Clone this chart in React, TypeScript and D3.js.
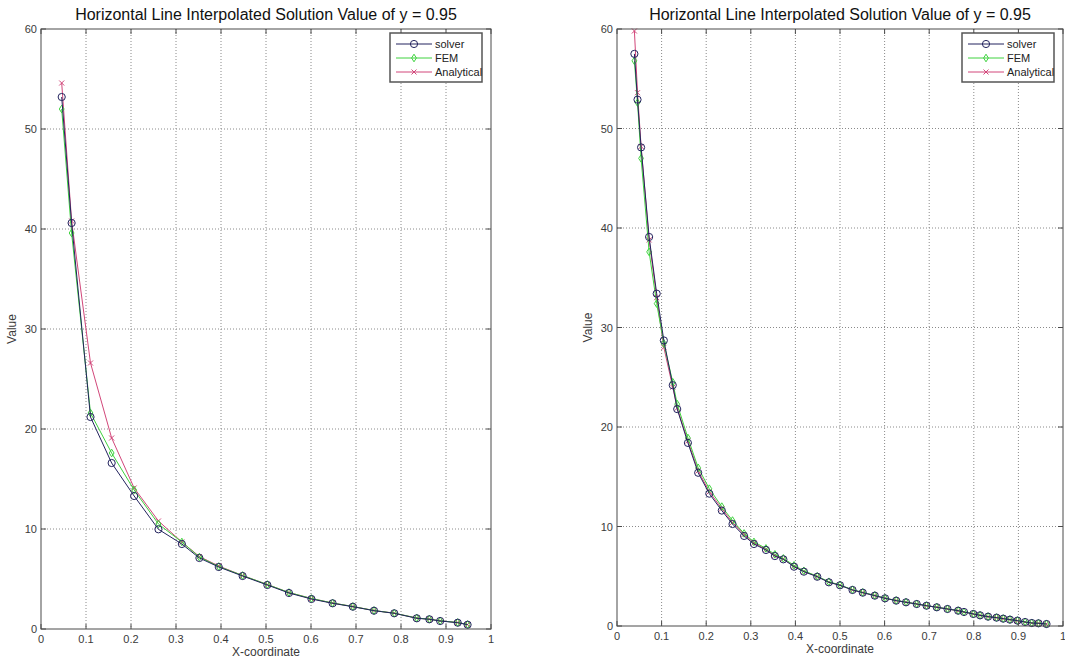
import React, { useRef, useEffect } from 'react';
import * as d3 from 'd3';

// left panel: coarse mesh
const leftX = [0.046, 0.068, 0.11, 0.157, 0.207, 0.261, 0.313, 0.352, 0.395, 0.448, 0.503, 0.551, 0.601, 0.648, 0.693, 0.74, 0.785, 0.835, 0.863, 0.887, 0.926, 0.948];
const leftSolver = [53.2, 40.6, 21.2, 16.6, 13.3, 9.97, 8.5, 7.1, 6.2, 5.3, 4.4, 3.6, 3.0, 2.57, 2.23, 1.83, 1.57, 1.07, 0.97, 0.8, 0.63, 0.43];
const leftFem = [52.0, 39.6, 21.6, 17.6, 13.9, 10.5, 8.7, 7.2, 6.25, 5.35, 4.45, 3.65, 3.05, 2.6, 2.25, 1.85, 1.58, 1.1, 0.98, 0.82, 0.65, 0.45];
const leftAnalytical = [54.6, 40.8, 26.6, 19.1, 14.1, 10.8, 8.7, 7.25, 6.3, 5.35, 4.45, 3.65, 3.05, 2.6, 2.25, 1.85, 1.58, 1.1, 0.98, 0.82, 0.65, 0.45];

// right panel: fine mesh
const rightX = [0.039, 0.046, 0.054, 0.072, 0.089, 0.105, 0.125, 0.135, 0.159, 0.182, 0.207, 0.235, 0.259, 0.285, 0.307, 0.334, 0.354, 0.373, 0.397, 0.419, 0.449, 0.475, 0.5, 0.528, 0.551, 0.578, 0.601, 0.626, 0.648, 0.672, 0.694, 0.717, 0.741, 0.765, 0.778, 0.799, 0.814, 0.832, 0.851, 0.866, 0.881, 0.898, 0.915, 0.93, 0.945, 0.963];
const rightSolver = [57.5, 52.9, 48.1, 39.1, 33.4, 28.7, 24.2, 21.8, 18.4, 15.4, 13.3, 11.6, 10.25, 9.05, 8.24, 7.64, 7.03, 6.7, 5.96, 5.46, 4.95, 4.39, 4.09, 3.62, 3.35, 3.05, 2.78, 2.55, 2.38, 2.21, 2.04, 1.88, 1.71, 1.54, 1.41, 1.21, 1.07, 0.94, 0.84, 0.74, 0.64, 0.54, 0.4, 0.3, 0.27, 0.2];
const rightFem = [56.8, 52.6, 47.0, 37.6, 32.4, 28.4, 24.5, 22.3, 18.9, 15.9, 13.8, 12.0, 10.6, 9.3, 8.45, 7.8, 7.2, 6.8, 6.1, 5.55, 5.0, 4.45, 4.12, 3.65, 3.38, 3.08, 2.8, 2.57, 2.4, 2.22, 2.05, 1.89, 1.72, 1.55, 1.42, 1.22, 1.08, 0.95, 0.85, 0.75, 0.65, 0.55, 0.42, 0.32, 0.28, 0.21];
const rightAnalytical = [59.8, 53.6, 48.2, 38.8, 33.0, 28.0, 24.0, 21.9, 18.6, 15.6, 13.5, 11.8, 10.4, 9.2, 8.35, 7.7, 7.1, 6.75, 6.0, 5.5, 4.98, 4.42, 4.1, 3.63, 3.36, 3.06, 2.79, 2.56, 2.39, 2.21, 2.04, 1.88, 1.71, 1.54, 1.41, 1.21, 1.07, 0.94, 0.84, 0.74, 0.64, 0.54, 0.4, 0.3, 0.27, 0.2];

const xTicks = [0, 0.1, 0.2, 0.3, 0.4, 0.5, 0.6, 0.7, 0.8, 0.9, 1];
const yTicks = [0, 10, 20, 30, 40, 50, 60];
const legendLabels = ['solver', 'FEM', 'Analytical'];
const titleText = 'Horizontal Line Interpolated Solution Value of y = 0.95';

const COLORS = { solver: '#23235e', fem: '#3fd23f', analytical: '#d2477a' };
const FONT = 'Liberation Sans, Arial, sans-serif';

const drawPanel = (svg, box, xs, solver, fem, analytical) => {
  const { x0, x1, y0, y1 } = box;
  const xScale = d3.scaleLinear().domain([0, 1]).range([x0, x1]);
  const yScale = d3.scaleLinear().domain([0, 60]).range([y1, y0]);
  const g = svg.append('g');

  // plot background
  g.append('rect')
    .attr('x', x0).attr('y', y0)
    .attr('width', x1 - x0).attr('height', y1 - y0)
    .attr('fill', 'white');

  // dotted grid
  g.selectAll('.vgrid')
    .data(xTicks.slice(1, -1))
    .enter().append('line')
    .attr('x1', d => xScale(d)).attr('x2', d => xScale(d))
    .attr('y1', y0).attr('y2', y1)
    .attr('stroke', '#8a8a8a')
    .attr('stroke-width', 1)
    .attr('stroke-dasharray', '1,2');

  g.selectAll('.hgrid')
    .data(yTicks.slice(1, -1))
    .enter().append('line')
    .attr('x1', x0).attr('x2', x1)
    .attr('y1', d => yScale(d)).attr('y2', d => yScale(d))
    .attr('stroke', '#8a8a8a')
    .attr('stroke-width', 1)
    .attr('stroke-dasharray', '1,2');

  // series
  const series = [
    { values: analytical, color: COLORS.analytical, marker: 'x' },
    { values: fem, color: COLORS.fem, marker: 'd' },
    { values: solver, color: COLORS.solver, marker: 'o' }
  ];
  const line = d3.line()
    .x(d => xScale(d[0]))
    .y(d => yScale(d[1]));

  series.forEach(s => {
    const pts = xs.map((x, i) => [x, s.values[i]]);
    g.append('path')
      .datum(pts)
      .attr('fill', 'none')
      .attr('stroke', s.color)
      .attr('stroke-width', 1)
      .attr('d', line);
    drawMarkers(g, pts.map(p => [xScale(p[0]), yScale(p[1])]), s.marker, s.color);
  });

  // axes box
  g.append('rect')
    .attr('x', x0).attr('y', y0)
    .attr('width', x1 - x0).attr('height', y1 - y0)
    .attr('fill', 'none')
    .attr('stroke', '#4a4a4a')
    .attr('stroke-width', 1);

  // inward ticks on all four sides
  const tickLen = 5;
  xTicks.forEach(t => {
    const x = xScale(t);
    g.append('line').attr('x1', x).attr('x2', x).attr('y1', y1).attr('y2', y1 - tickLen).attr('stroke', '#4a4a4a');
    g.append('line').attr('x1', x).attr('x2', x).attr('y1', y0).attr('y2', y0 + tickLen).attr('stroke', '#4a4a4a');
    g.append('text')
      .attr('x', x).attr('y', y1 + 14)
      .attr('text-anchor', 'middle')
      .attr('font-family', FONT).attr('font-size', 11)
      .attr('fill', '#3a3a3a')
      .text(d3.format('~g')(t));
  });
  yTicks.forEach(t => {
    const y = yScale(t);
    g.append('line').attr('x1', x0).attr('x2', x0 + tickLen).attr('y1', y).attr('y2', y).attr('stroke', '#4a4a4a');
    g.append('line').attr('x1', x1).attr('x2', x1 - tickLen).attr('y1', y).attr('y2', y).attr('stroke', '#4a4a4a');
    g.append('text')
      .attr('x', x0 - 4).attr('y', y + 4)
      .attr('text-anchor', 'end')
      .attr('font-family', FONT).attr('font-size', 11)
      .attr('fill', '#3a3a3a')
      .text(t);
  });

  // title and axis labels
  g.append('text')
    .attr('x', (x0 + x1) / 2).attr('y', y0 - 9)
    .attr('text-anchor', 'middle')
    .attr('font-family', FONT).attr('font-size', 16)
    .attr('fill', '#111')
    .text(titleText);

  g.append('text')
    .attr('x', (x0 + x1) / 2).attr('y', y1 + 27)
    .attr('text-anchor', 'middle')
    .attr('font-family', FONT).attr('font-size', 12)
    .attr('fill', '#3a3a3a')
    .text('X-coordinate');

  g.append('text')
    .attr('transform', `translate(${x0 - 25},${(y0 + y1) / 2}) rotate(-90)`)
    .attr('text-anchor', 'middle')
    .attr('font-family', FONT).attr('font-size', 12)
    .attr('fill', '#3a3a3a')
    .text('Value');

  // legend
  const lw = 92, lh = 49;
  const lx = x1 - lw - 9, ly = y0 + 4;
  const legend = g.append('g').attr('transform', `translate(${lx},${ly})`);
  legend.append('rect')
    .attr('width', lw).attr('height', lh)
    .attr('fill', 'white')
    .attr('stroke', '#555')
    .attr('stroke-width', 1.5);
  const legendSeries = [
    { color: COLORS.solver, marker: 'o' },
    { color: COLORS.fem, marker: 'd' },
    { color: COLORS.analytical, marker: 'x' }
  ];
  legendSeries.forEach((s, i) => {
    const cy = 11 + i * 14;
    legend.append('line')
      .attr('x1', 6).attr('x2', 42)
      .attr('y1', cy).attr('y2', cy)
      .attr('stroke', s.color).attr('stroke-width', 1);
    drawMarkers(legend, [[24, cy]], s.marker, s.color);
    legend.append('text')
      .attr('x', 45).attr('y', cy + 4)
      .attr('font-family', FONT).attr('font-size', 11)
      .attr('fill', '#222')
      .text(legendLabels[i]);
  });
};

const drawMarkers = (g, pts, marker, color) => {
  if (marker === 'o') {
    g.selectAll(null).data(pts).enter().append('circle')
      .attr('cx', d => d[0]).attr('cy', d => d[1])
      .attr('r', 3.6)
      .attr('fill', 'none')
      .attr('stroke', color)
      .attr('stroke-width', 1);
  } else if (marker === 'd') {
    g.selectAll(null).data(pts).enter().append('path')
      .attr('d', d => `M${d[0]},${d[1] - 3.8}L${d[0] + 2.4},${d[1]}L${d[0]},${d[1] + 3.8}L${d[0] - 2.4},${d[1]}Z`)
      .attr('fill', 'none')
      .attr('stroke', color)
      .attr('stroke-width', 1);
  } else {
    g.selectAll(null).data(pts).enter().append('path')
      .attr('d', d => `M${d[0] - 2.5},${d[1] - 2.5}L${d[0] + 2.5},${d[1] + 2.5}M${d[0] - 2.5},${d[1] + 2.5}L${d[0] + 2.5},${d[1] - 2.5}`)
      .attr('stroke', color)
      .attr('stroke-width', 1);
  }
};

const App = () => {
  const svgRef = useRef();

  useEffect(() => {
    const svg = d3.select(svgRef.current);
    svg.selectAll('*').remove();
    svg.append('rect').attr('width', 1065).attr('height', 660).attr('fill', 'white');

    drawPanel(svg, { x0: 41, x1: 491, y0: 29, y1: 629 }, leftX, leftSolver, leftFem, leftAnalytical);
    drawPanel(svg, { x0: 617, x1: 1063, y0: 29, y1: 626 }, rightX, rightSolver, rightFem, rightAnalytical);
  }, []);

  return (
    <svg ref={svgRef} width={1065} height={660} style={{ position: 'absolute', left: 0, top: 0 }} />
  );
};

export default App;
